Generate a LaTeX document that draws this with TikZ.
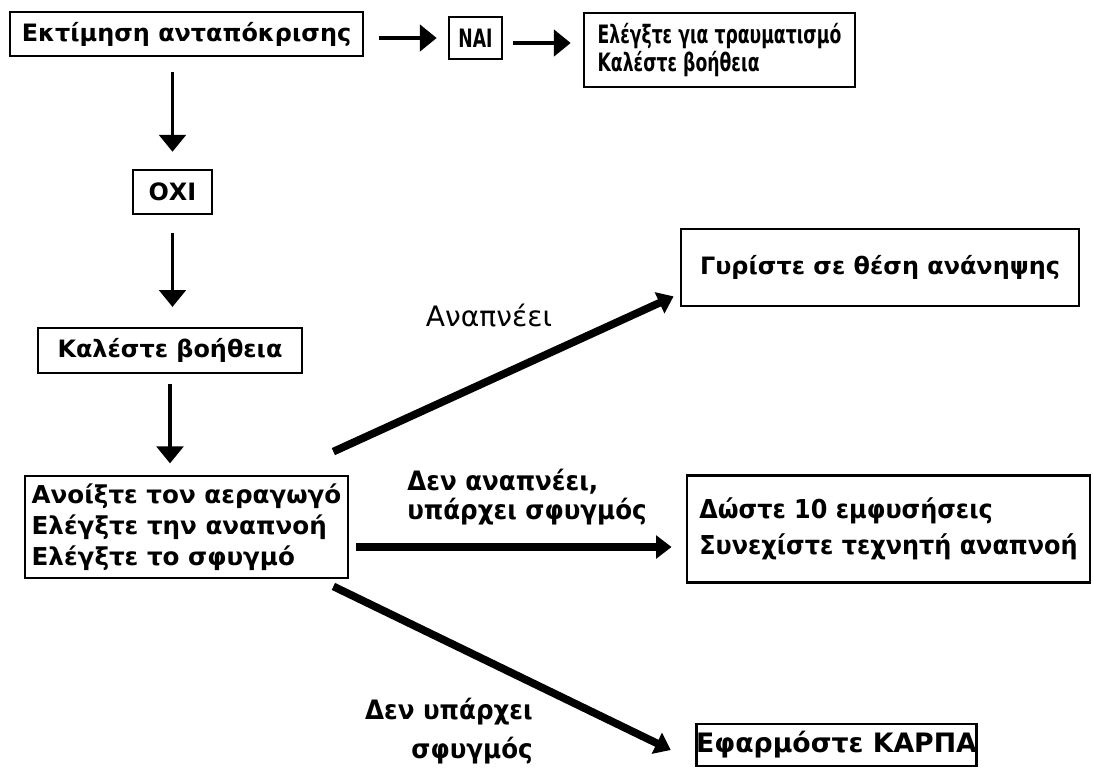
\documentclass[tikz,border=0pt]{standalone}
\usepackage{fontspec}
\setmainfont{DejaVu Sans}
\newfontfamily\narrowfont{DejaVu Sans}[FakeStretch=0.68]
\newfontfamily\tahomafont{DejaVu Sans}[FakeStretch=0.92]
\usetikzlibrary{arrows.meta,calc,positioning}
\newcommand{\px}{0.025cm}

\begin{document}
\begin{tikzpicture}[
      x=\px,y=-\px,
      box/.style={draw=black,line width=2pt,inner sep=0pt,
        font=\bfseries\fontsize{17}{21}\selectfont},
      flow/.style={-{Triangle[length=12pt,width=19pt]},line width=2.2pt},
      thickflow/.style={-{Triangle[length=11pt,width=16pt]},line width=5.5pt},
      edgetext/.style={inner sep=0pt,font=\bfseries\tahomafont\fontsize{19}{21}\selectfont}
    ]
      \useasboundingbox (0,0) rectangle (1094,771);

      % left column
      \node[box,minimum width=353*\px,minimum height=44*\px] (resp) at (186.5,34)
        {Εκτίμηση ανταπόκρισης};
      \node[box,minimum width=79*\px,minimum height=44*\px] (no) at (172.5,192) {ΟΧΙ};
      \node[box,minimum width=264*\px,minimum height=45*\px] (help) at (170,350.5)
        {Καλέστε βοήθεια};
      \node[box,minimum width=323*\px,minimum height=102*\px,align=left,
        font=\bfseries\fontsize{17.5}{22}\selectfont] (airway) at (186.5,527)
        {Ανοίξτε τον αεραγωγό\\Ελέγξτε την αναπνοή\\Ελέγξτε το σφυγμό};

      % top row
      \node[box,minimum width=53*\px,minimum height=42*\px,
        font=\narrowfont\bfseries\fontsize{18}{20}\selectfont] (yes) at (475.5,38) {ΝΑΙ};
      \node[box,minimum width=271*\px,minimum height=74*\px,align=left,
        font=\narrowfont\bfseries\fontsize{18}{20}\selectfont] (injury) at (719.5,50)
        {Ελέγξτε για τραυματισμό\\Καλέστε βοήθεια};

      % right column
      \node[box,minimum width=398*\px,minimum height=77*\px] (recovery) at (880,267.5)
        {Γυρίστε σε θέση ανάνηψης};
      \node[box,minimum width=403*\px,minimum height=107*\px,align=left,
        font=\tahomafont\bfseries\fontsize{18.5}{26}\selectfont] (breaths) at (888.5,529)
        {Δώστε 10 εμφυσήσεις\\Συνεχίστε τεχνητή αναπνοή};
      \node[box,minimum width=275*\px,minimum height=42*\px,
        font=\bfseries\fontsize{19}{21}\selectfont] (cpr) at (836.5,745)
        {Εφαρμόστε ΚΑΡΠΑ};

      \draw[flow,shorten <=10.7pt,shorten >=7.8pt] (yes.west -| resp.east) -- (yes.west);
      \draw[flow,shorten <=7pt,shorten >=8.5pt] ($(yes.east)+(0,5)$) -- ($(yes.east -| injury.west)+(0,5)$);
      \draw[flow,shorten <=10.7pt,shorten >=12pt] (no.north |- resp.south) -- (no.north);
      \draw[flow,shorten <=12.8pt,shorten >=14pt] (no.south) -- (no.south |- help.north);
      \draw[flow,shorten <=7pt,shorten >=8pt] (help.south) -- (help.south |- airway.north);

      \draw[thickflow] ($(airway.north east)+(-16,-23)$) -- ($(recovery.south west)+(-6,-11)$);
      \draw[thickflow] ($(airway.east)+(7,20)$) -- ($(breaths.west)+(-14,18)$);
      \draw[thickflow] ($(airway.south east)+(-16,7)$) -- ($(cpr.west)+(-24,5)$);

      \node[edgetext,font=\fontsize{20}{24}\selectfont] (breathing) at (489,316) {Αναπνέει};
      \node[edgetext,anchor=west,align=left] (pulse) at (407,497)
        {Δεν αναπνέει,\\υπάρχει σφυγμός};
      \node[edgetext,anchor=east,align=right,
        font=\bfseries\tahomafont\fontsize{19}{28}\selectfont] (nopulse) at (533,731)
        {Δεν υπάρχει\\σφυγμός};
    \end{tikzpicture}
\end{document}
